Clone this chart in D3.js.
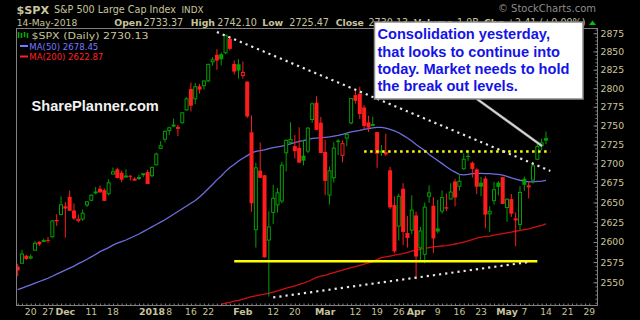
<!DOCTYPE html>
<html lang="en">
<head>
    <meta charset="UTF-8">
    <title>$SPX Daily - SharePlanner</title>
    <script src="https://d3js.org/d3.v7.min.js"></script>
    <style>
        body { margin: 0; background: #000; }
        svg { display: block; background: #000; }
        text { font-family: "DejaVu Sans", sans-serif; }
        .tan { fill: #c8c49c; }
    </style>
</head>
<body>
<svg width="640" height="320"></svg>
<script>
// Trading days shown on the chart
const dates = [
    "2017-11-15","2017-11-16","2017-11-17",
    "2017-11-20","2017-11-21","2017-11-22","2017-11-24",
    "2017-11-27","2017-11-28","2017-11-29","2017-11-30","2017-12-01",
    "2017-12-04","2017-12-05","2017-12-06","2017-12-07","2017-12-08",
    "2017-12-11","2017-12-12","2017-12-13","2017-12-14","2017-12-15",
    "2017-12-18","2017-12-19","2017-12-20","2017-12-21","2017-12-22",
    "2017-12-26","2017-12-27","2017-12-28","2017-12-29",
    "2018-01-02","2018-01-03","2018-01-04","2018-01-05",
    "2018-01-08","2018-01-09","2018-01-10","2018-01-11","2018-01-12",
    "2018-01-16","2018-01-17","2018-01-18","2018-01-19",
    "2018-01-22","2018-01-23","2018-01-24","2018-01-25","2018-01-26",
    "2018-01-29","2018-01-30","2018-01-31","2018-02-01","2018-02-02",
    "2018-02-05","2018-02-06","2018-02-07","2018-02-08","2018-02-09",
    "2018-02-12","2018-02-13","2018-02-14","2018-02-15","2018-02-16",
    "2018-02-20","2018-02-21","2018-02-22","2018-02-23",
    "2018-02-26","2018-02-27","2018-02-28","2018-03-01","2018-03-02",
    "2018-03-05","2018-03-06","2018-03-07","2018-03-08","2018-03-09",
    "2018-03-12","2018-03-13","2018-03-14","2018-03-15","2018-03-16",
    "2018-03-19","2018-03-20","2018-03-21","2018-03-22","2018-03-23",
    "2018-03-26","2018-03-27","2018-03-28","2018-03-29",
    "2018-04-02","2018-04-03","2018-04-04","2018-04-05","2018-04-06",
    "2018-04-09","2018-04-10","2018-04-11","2018-04-12","2018-04-13",
    "2018-04-16","2018-04-17","2018-04-18","2018-04-19","2018-04-20",
    "2018-04-23","2018-04-24","2018-04-25","2018-04-26","2018-04-27",
    "2018-04-30","2018-05-01","2018-05-02","2018-05-03","2018-05-04",
    "2018-05-07","2018-05-08","2018-05-09","2018-05-10","2018-05-11",
    "2018-05-14"
];
// empty days the axis runs on to
const futureDates = ["2018-05-15","2018-05-16","2018-05-17","2018-05-18",
    "2018-05-21","2018-05-22","2018-05-23","2018-05-24","2018-05-25","2018-05-29"];

const prevClose = 2578.87;

const opens = [
    2569.45,2572.95,2582.94, 2579.49,2589.17,2600.31,2600.42,
    2602.66,2605.94,2627.82,2633.93,2645.10, 2657.19,2639.78,2626.24,2628.38,2646.21,
    2652.19,2661.73,2667.59,2665.87,2660.63, 2685.92,2692.71,2688.18,2683.02,2684.22,
    2679.09,2682.10,2686.10,2689.15, 2683.73,2697.85,2719.31,2731.33,
    2742.67,2751.15,2745.55,2752.97,2770.18, 2798.96,2784.99,2802.40,2802.60,
    2809.16,2835.05,2845.42,2846.24,2847.48, 2867.23,2832.74,2832.41,2816.45,2808.92,
    2741.06,2614.78,2690.95,2685.01,2601.78, 2636.75,2646.27,2651.21,2713.46,2727.14,
    2722.99,2720.53,2710.42,2715.80, 2757.37,2780.45,2753.78,2715.22,2658.89,
    2681.06,2730.18,2710.18,2732.75,2752.91, 2790.54,2792.31,2774.06,2754.27,2750.57,
    2741.38,2715.05,2714.99,2691.36,2646.71, 2619.35,2667.57,2611.30,2614.41,
    2633.45,2592.17,2584.04,2657.36,2645.82, 2617.18,2638.41,2643.90,2653.83,2676.90,
    2670.10,2692.74,2710.11,2701.16,2692.56, 2675.40,2680.80,2634.92,2651.65,2675.47,
    2682.51,2642.96,2654.24,2628.08,2621.45, 2680.34,2670.26,2678.12,2705.02,2722.70,
    2733.37
];
const highs = [
    2572.84,2590.09,2583.96, 2584.64,2601.19,2600.94,2604.21,
    2606.41,2627.69,2634.89,2657.74,2650.62, 2665.19,2648.72,2634.41,2640.99,2651.65,
    2660.33,2669.72,2671.88,2668.09,2679.63, 2694.97,2694.44,2691.01,2692.64,2685.35,
    2682.74,2685.64,2687.66,2692.12, 2695.89,2714.37,2729.29,2743.45,
    2748.51,2759.14,2750.80,2767.56,2787.85, 2807.54,2807.04,2805.83,2810.33,
    2833.03,2842.24,2852.97,2848.56,2872.87, 2870.62,2837.75,2839.26,2835.96,2808.92,
    2763.39,2701.04,2727.67,2685.27,2638.67, 2672.61,2668.59,2702.10,2731.51,2754.42,
    2737.60,2747.75,2731.26,2747.76, 2780.64,2789.15,2761.52,2730.89,2696.25,
    2728.09,2732.08,2730.60,2740.45,2786.57, 2796.98,2801.90,2777.11,2763.03,2761.85,
    2741.38,2724.22,2739.14,2695.68,2657.67, 2661.36,2674.78,2632.65,2659.07,
    2638.30,2619.14,2649.86,2672.08,2656.88, 2653.55,2665.45,2661.43,2674.72,2680.26,
    2686.49,2713.34,2717.49,2702.84,2693.94, 2682.86,2683.55,2645.30,2676.48,2677.35,
    2682.87,2655.27,2660.87,2637.14,2670.93, 2683.35,2676.34,2701.27,2726.11,2732.86,
    2742.10
];
const lows = [
    2557.45,2572.95,2577.62, 2578.24,2589.17,2595.23,2600.42,
    2598.87,2605.44,2620.32,2633.93,2605.52, 2639.03,2627.73,2624.75,2626.53,2644.10,
    2651.47,2660.36,2662.85,2652.01,2659.14, 2685.92,2680.74,2676.11,2682.40,2678.13,
    2677.96,2678.91,2682.69,2673.61, 2682.36,2697.77,2719.07,2727.92,
    2737.60,2747.86,2736.06,2752.78,2769.64, 2768.64,2778.38,2792.56,2798.08,
    2808.12,2830.59,2824.81,2830.94,2846.18, 2851.48,2818.27,2813.04,2812.70,2759.97,
    2638.17,2593.07,2681.33,2580.56,2532.69, 2622.45,2637.08,2648.87,2689.82,2725.11,
    2706.76,2701.29,2697.77,2713.74, 2753.78,2744.22,2713.54,2659.65,2647.32,
    2675.75,2711.26,2701.74,2722.65,2751.54, 2779.26,2758.68,2744.38,2741.47,2749.97,
    2694.59,2710.05,2709.79,2641.59,2585.89, 2601.81,2596.12,2593.06,2609.72,
    2553.80,2575.49,2573.61,2649.58,2586.27, 2610.79,2635.78,2639.25,2653.83,2645.05,
    2665.16,2692.05,2703.63,2681.90,2660.61, 2657.99,2617.32,2612.67,2647.16,2659.01,
    2648.04,2625.41,2631.70,2594.62,2615.32, 2664.70,2655.20,2674.14,2704.54,2717.45,
    2725.47
];
const closes = [
    2564.62,2585.64,2578.85, 2582.14,2599.03,2597.08,2602.42,
    2601.42,2627.04,2626.07,2647.58,2642.22, 2639.44,2629.57,2629.27,2636.98,2651.50,
    2659.99,2664.11,2662.85,2652.01,2675.81, 2690.16,2681.47,2679.25,2684.57,2683.34,
    2680.50,2682.62,2687.54,2673.61, 2695.81,2713.06,2723.99,2743.15,
    2747.71,2751.29,2748.23,2767.56,2786.24, 2776.42,2802.56,2798.03,2810.30,
    2832.97,2839.13,2837.54,2839.25,2872.87, 2853.53,2822.43,2823.81,2821.98,2762.13,
    2648.94,2695.14,2681.66,2581.00,2619.55, 2656.00,2662.94,2698.63,2731.20,2732.22,
    2716.26,2701.33,2703.96,2747.30, 2779.60,2744.28,2713.83,2677.67,2691.25,
    2720.94,2728.12,2726.80,2738.97,2786.57, 2783.02,2765.31,2749.48,2747.33,2752.01,
    2712.92,2716.94,2711.93,2643.69,2588.26, 2658.55,2612.62,2605.00,2640.87,
    2581.88,2614.45,2644.69,2662.84,2604.47, 2613.16,2656.87,2642.19,2663.99,2656.30,
    2677.84,2706.39,2708.64,2693.13,2670.14, 2670.29,2634.56,2639.40,2666.94,2669.91,
    2648.05,2654.80,2635.67,2629.73,2663.42, 2672.63,2671.92,2697.79,2723.07,2727.72,
    2730.13
];

// MA(50), one value per trading day
const ma50 = [
    2541,2543,2545, 2547,2549,2551,2553,
    2555,2557.5,2560,2562.5,2565, 2567.5,2570,2573,2575.5,2578.5,
    2581.5,2584.5,2588,2590.5,2593, 2596,2598.5,2600.5,2602.5,2605,
    2607.5,2610,2613,2616, 2619,2622,2625,2628,
    2631.5,2635,2638.5,2642,2645.5, 2649,2652.5,2657,2662,
    2667.5,2673,2679,2684,2690, 2695,2699,2703.5,2707,2710.5,
    2714,2716,2717,2718,2719.5, 2721,2722,2723,2724.5,2726,
    2727.5,2729,2730,2731.5, 2733,2733.5,2734,2734.5,2735,
    2736,2737,2738.5,2740,2741.5, 2742.5,2743.5,2745,2746,2747,
    2747.5,2747.5,2746.5,2745,2743, 2740.5,2737,2733.5,2729.5,
    2725,2721,2717,2712,2708, 2704,2700,2696,2692,2689,
    2686,2685.5,2686,2687,2687.5, 2687.5,2687,2687,2686.5,2686,
    2685,2683.5,2681.5,2680,2678.5, 2677.5,2676.5,2676.5,2677,2677.5,
    2678.45
];
const ma200Start = "2018-01-25";
const ma200 = [
    2523,2524.5,
    2525.5,2527,2528,2529.5,2531, 2532.5,2533.5,2534.5,2535.5,2536.5,
    2538,2539.5,2541,2543,2544, 2545.5,2547.5,2549,2551,
    2553.5,2556,2557.5,2558.5,2560.5, 2562,2563.5,2565,2566.5,2568,
    2569.5,2571,2572.5,2574,2575.5, 2578,2580.5,2581.5,2582.5,2583.5,
    2584.5,2585.5,2587,2588.5, 2590,2591,2592,2593,2594,
    2594.5,2595,2595.5,2596.5,2597.5, 2598.5,2600,2601.5,2603,2605,
    2606,2607,2607.5,2608.5,2609.5, 2610.5,2611.5,2612.5,2613.5,2614.5,
    2615.5,2616.5,2618,2619.5,2621, 2622.87
];

// drawn annotations
const supportLine = { from: "2018-01-30", to: "2018-05-10", price: 2576 };
const breakoutLine = { from: "2018-03-14", to: "2018-05-15", price: 2716 };
const upperTrend = [{ date: "2018-01-24", price: 2876.7 }, { date: "2018-05-15", price: 2690.6 }];
const lowerTrend = [{ date: "2018-02-12", price: 2531.5 }, { date: "2018-05-08", price: 2575 }];

const yTicks = [2550, 2575, 2600, 2625, 2650, 2675, 2700, 2725, 2750, 2775, 2800, 2825, 2850, 2875];
const xTickLabels = [
    { date: "2017-11-20", label: "20" }, { date: "2017-11-27", label: "27" },
    { date: "2017-12-01", label: "Dec", bold: true }, { date: "2017-12-11", label: "11" },
    { date: "2017-12-18", label: "18" }, { date: "2018-01-02", label: "2018", bold: true },
    { date: "2018-01-08", label: "8" }, { date: "2018-01-16", label: "16" },
    { date: "2018-01-22", label: "22" }, { date: "2018-02-01", label: "Feb", bold: true },
    { date: "2018-02-12", label: "12" }, { date: "2018-02-20", label: "20" },
    { date: "2018-03-01", label: "Mar", bold: true }, { date: "2018-03-12", label: "12" },
    { date: "2018-03-19", label: "19" }, { date: "2018-03-26", label: "26" },
    { date: "2018-04-02", label: "Apr", bold: true }, { date: "2018-04-09", label: "9" },
    { date: "2018-04-16", label: "16" }, { date: "2018-04-23", label: "23" },
    { date: "2018-05-01", label: "May", bold: true }, { date: "2018-05-07", label: "7" },
    { date: "2018-05-14", label: "14" }, { date: "2018-05-21", label: "21" },
    { date: "2018-05-29", label: "29" }
];

const calloutLines = ["Consolidation yesterday,", "that looks to continue into",
    "today. Market needs to hold", "the break out levels."];

const svg = d3.select("svg");
const plot = { left: 16, right: 597, top: 28, bottom: 305 };

const x = d3.scalePoint().domain(dates.concat(futureDates)).range([17.7, 589.3]);
const y = d3.scaleLog().domain([2522.3, 2882.3]).range([plot.bottom, plot.top]);

svg.append("defs").append("clipPath").attr("id", "plotClip")
    .append("rect")
    .attr("x", plot.left + 1).attr("y", plot.top + 1)
    .attr("width", plot.right - plot.left - 1).attr("height", plot.bottom - plot.top - 1);

const plotG = svg.append("g").attr("clip-path", "url(#plotClip)");

// moving averages
plotG.append("path")
    .datum(ma50)
    .attr("fill", "none")
    .attr("stroke", "#6d6de0")
    .attr("stroke-width", 1.3)
    .attr("d", d3.line().x((d, i) => x(dates[i])).y(d => y(d)));

const ma200Dates = dates.slice(dates.indexOf(ma200Start));
plotG.append("path")
    .datum(ma200)
    .attr("fill", "none")
    .attr("stroke", "#d01010")
    .attr("stroke-width", 1.3)
    .attr("d", d3.line().x((d, i) => x(ma200Dates[i])).y(d => y(d)));

// candles: colour against the previous close, hollow when close > open
const candles = dates.map((d, i) => ({
    date: d, open: opens[i], high: highs[i], low: lows[i], close: closes[i],
    prev: i > 0 ? closes[i - 1] : prevClose
}));

const candle = plotG.append("g").selectAll("g")
    .data(candles)
    .join("g")
    .attr("transform", d => `translate(${x(d.date)},0)`);

const colorOf = d => d.close >= d.prev ? "#00a000" : "#ff1c1c";

candle.append("line")
    .attr("y1", d => y(d.high))
    .attr("y2", d => y(d.low))
    .attr("stroke", colorOf)
    .attr("stroke-width", 1);

candle.append("rect")
    .attr("x", d => d.close > d.open ? -1.5 : -2)
    .attr("width", d => d.close > d.open ? 3 : 4)
    .attr("y", d => y(Math.max(d.open, d.close)) + (d.close > d.open ? 0.5 : 0))
    .attr("height", d => Math.max(1, Math.abs(y(d.open) - y(d.close)) - (d.close > d.open ? 1 : 0)))
    .attr("fill", d => d.close > d.open ? "#000" : colorOf(d))
    .attr("stroke", d => d.close > d.open ? colorOf(d) : "none")
    .attr("stroke-width", 1);

// annotations
plotG.append("line")
    .attr("x1", x(supportLine.from)).attr("x2", x(supportLine.to))
    .attr("y1", y(supportLine.price)).attr("y2", y(supportLine.price))
    .attr("stroke", "#ffff00").attr("stroke-width", 2.5);

plotG.append("line")
    .attr("x1", x(breakoutLine.from)).attr("x2", x(breakoutLine.to))
    .attr("y1", y(breakoutLine.price)).attr("y2", y(breakoutLine.price))
    .attr("stroke", "#ffff00").attr("stroke-width", 2.5)
    .attr("stroke-dasharray", "2.5,3.5");

[upperTrend, lowerTrend].forEach(t => {
    plotG.append("line")
        .attr("x1", x(t[0].date)).attr("y1", y(t[0].price))
        .attr("x2", x(t[1].date)).attr("y2", y(t[1].price))
        .attr("stroke", "#e6e6e6").attr("stroke-width", 2.2)
        .attr("stroke-dasharray", "2.2,4");
});

// frame
svg.append("rect")
    .attr("x", plot.left + 0.5).attr("y", plot.top + 0.5)
    .attr("width", plot.right - plot.left).attr("height", plot.bottom - plot.top)
    .attr("fill", "none").attr("stroke", "#808080");

// y axis (right)
const yAxis = svg.append("g")
    .attr("transform", `translate(${plot.right + 0.5},0)`)
    .call(d3.axisLeft(y).tickValues(d3.range(2525, 2881, 5)).tickSize(2).tickFormat(""));
yAxis.call(g => g.select(".domain").remove());
yAxis.selectAll("line").attr("stroke", "#808080");

const yLabels = svg.append("g")
    .attr("transform", `translate(${plot.right + 0.5},0)`)
    .call(d3.axisRight(y).tickValues(yTicks).tickSizeInner(-4).tickSizeOuter(0).tickPadding(3).tickFormat(d3.format("d")));
yLabels.select(".domain").remove();
yLabels.selectAll("line").attr("stroke", "#808080");
yLabels.selectAll("text")
    .attr("class", "tan")
    .style("font-family", "DejaVu Sans")
    .style("font-size", "9.3px");

// x axis (daily ticks)
const xAxis = svg.append("g")
    .attr("transform", `translate(0,${plot.bottom + 0.5})`)
    .call(d3.axisBottom(x).tickSizeInner(-2).tickSizeOuter(0).tickFormat(""));
xAxis.select(".domain").remove();
xAxis.selectAll("line").attr("stroke", "#808080");

svg.append("g").selectAll("text")
    .data(xTickLabels)
    .join("text")
    .attr("class", "tan")
    .attr("x", d => x(d.date))
    .attr("y", 315)
    .attr("text-anchor", "middle")
    .style("font-size", d => d.bold ? "9.4px" : "9.2px")
    .style("font-weight", d => d.bold ? "bold" : "normal")
    .text(d => d.label);

// header
const head = svg.append("g").attr("class", "tan");
head.append("text").attr("x", 16.5).attr("y", 13.5)
    .style("font-size", "11.2px").style("font-weight", "bold").text("$SPX");
head.append("text").attr("x", 54).attr("y", 13)
    .style("font-size", "9.6px").text("S&P 500 Large Cap Index");
head.append("text").attr("x", 181.5).attr("y", 13)
    .style("font-size", "8.8px").text("INDX");
head.append("text").attr("x", 16.7).attr("y", 25.5)
    .style("font-size", "9.2px").text("14-May-2018");

const quote = [
    ["Open", 114.3, true], ["2733.37", 143.5], ["High", 190.7, true], ["2742.10", 217.3],
    ["Low", 262.3, true], ["2725.47", 289.3], ["Close", 335.7, true], ["2730.13", 368.5],
    ["Volume", 414, true], ["1.9B", 457], ["Chg", 484, true], ["+2.41 (+0.09%)", 507]
];
quote.forEach(([t, px, bold]) => {
    head.append("text").attr("x", px).attr("y", 25.5)
        .style("font-size", bold ? "9.3px" : "9.6px")
        .style("font-weight", bold ? "bold" : "normal")
        .text(t);
});

svg.append("text").attr("x", 596).attr("y", 12)
    .attr("text-anchor", "end")
    .attr("fill", "#8c8c8c")
    .style("font-size", "10px")
    .text("\u00a9 StockCharts.com");

svg.append("path").attr("d", "M589,25L596,25L592.5,20.5Z").attr("fill", "#00c000");

// legend
const leg = svg.append("g").style("font-size", "9.4px");
leg.append("path")
    .attr("d", "M18.5,32V38M21.5,33V38M24.5,32V37M27.5,33V38")
    .attr("stroke", "#00b000").attr("stroke-width", 1.5);
leg.append("text").attr("class", "tan").attr("x", 31.5).attr("y", 39)
    .attr("textLength", 117).attr("lengthAdjust", "spacingAndGlyphs")
    .text("$SPX (Daily) 2730.13");
leg.append("line").attr("x1", 20).attr("x2", 28).attr("y1", 46).attr("y2", 46)
    .attr("stroke", "#7878ff").attr("stroke-width", 2);
leg.append("text").attr("x", 29.3).attr("y", 49.5)
    .attr("textLength", 69).attr("lengthAdjust", "spacingAndGlyphs")
    .attr("fill", "#7878ff").text("MA(50) 2678.45");
leg.append("line").attr("x1", 20).attr("x2", 28).attr("y1", 56.5).attr("y2", 56.5)
    .attr("stroke", "#ff2020").attr("stroke-width", 2);
leg.append("text").attr("x", 29.3).attr("y", 60)
    .attr("textLength", 74).attr("lengthAdjust", "spacingAndGlyphs")
    .attr("fill", "#ff2020").text("MA(200) 2622.87");

// watermark
svg.append("text").attr("x", 31.5).attr("y", 110.5)
    .attr("fill", "#f2f2f2")
    .style("font-family", "Liberation Sans")
    .style("font-size", "14.6px").style("font-weight", "bold")
    .text("SharePlanner.com");

// callout
const call = svg.append("g");
call.append("line")
    .attr("x1", 477).attr("y1", 99).attr("x2", 542).attr("y2", 146)
    .attr("stroke", "#b4b4b4").attr("stroke-width", 2.5);
call.append("line")
    .attr("x1", 477).attr("y1", 99).attr("x2", 542).attr("y2", 146)
    .attr("stroke", "#f0f0f0").attr("stroke-width", 0.8);
call.append("rect")
    .attr("x", 374.5).attr("y", 22).attr("width", 208.5).attr("height", 77)
    .attr("fill", "#fff").attr("stroke", "#8a8a8a").attr("stroke-width", 1.5);
call.selectAll("text.note")
    .data(calloutLines)
    .join("text")
    .attr("class", "note")
    .attr("x", 377.5)
    .attr("y", (d, i) => 39.3 + i * 17.2)
    .attr("fill", "#1414e6")
    .style("font-family", "Liberation Sans")
    .style("font-size", "14.6px").style("font-weight", "bold")
    .text(d => d);
</script>
</body>
</html>
